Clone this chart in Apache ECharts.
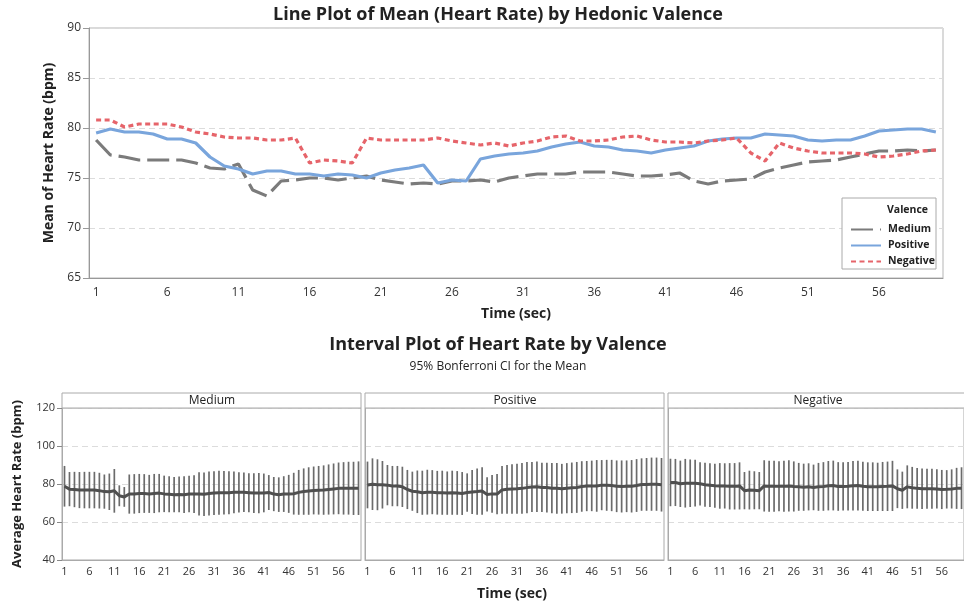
<!DOCTYPE html>
<html>
<head>
<meta charset="utf-8">
<title>Heart Rate by Hedonic Valence</title>
<script src="https://cdn.jsdelivr.net/npm/echarts@6/dist/echarts.min.js"></script>
<style>
  html, body { margin: 0; padding: 0; background: #fff; }
  #chart { width: 964px; height: 607px; }
</style>
</head>
<body>
<div id="chart"></div>
<script>
// time points (sec)
var time = [1,2,3,4,5,6,7,8,9,10,11,12,13,14,15,16,17,18,19,20,
  21,22,23,24,25,26,27,28,29,30,31,32,33,34,35,36,37,38,39,40,
  41,42,43,44,45,46,47,48,49,50,51,52,53,54,55,56,57,58,59,60];

// mean heart rate per valence
var medium = [78.8,77.3,77.1,76.8,76.8,76.8,76.8,76.5,76.0,75.9,
  76.4,73.8,73.2,74.7,74.8,75.0,75.0,74.8,75.0,75.2,
  74.8,74.6,74.4,74.5,74.4,74.7,74.7,74.8,74.6,75.0,
  75.2,75.4,75.4,75.4,75.6,75.6,75.6,75.4,75.2,75.2,
  75.3,75.5,74.7,74.4,74.7,74.8,74.9,75.6,76.0,76.3,
  76.6,76.7,76.8,77.1,77.4,77.7,77.7,77.8,77.7,77.8];
var positive = [79.5,79.9,79.6,79.6,79.4,78.9,78.9,78.5,77.1,76.2,
  75.9,75.4,75.7,75.7,75.4,75.4,75.2,75.4,75.3,75.0,
  75.5,75.8,76.0,76.3,74.5,74.8,74.7,76.9,77.2,77.4,
  77.5,77.7,78.1,78.4,78.6,78.2,78.1,77.8,77.7,77.5,
  77.8,78.0,78.2,78.7,78.9,79.0,79.0,79.4,79.3,79.2,
  78.8,78.7,78.8,78.8,79.2,79.7,79.8,79.9,79.9,79.6];
var negative = [80.8,80.8,80.1,80.4,80.4,80.4,80.1,79.6,79.4,79.1,
  79.0,79.0,78.8,78.8,79.0,76.5,76.8,76.7,76.5,79.0,
  78.8,78.8,78.8,78.8,79.0,78.7,78.5,78.3,78.5,78.2,
  78.5,78.7,79.1,79.2,78.7,78.7,78.8,79.1,79.2,78.8,
  78.6,78.6,78.5,78.7,78.8,79.0,77.5,76.7,78.5,78.0,
  77.7,77.5,77.5,77.5,77.4,77.1,77.2,77.4,77.7,77.8];

// 95% Bonferroni CI half widths
var ciMedium = [10.7,9.0,9.3,9.5,9.6,9.6,9.6,9.4,9.0,9.6,
  11.5,5.5,5.2,10.3,10.4,10.3,10.2,10.0,10.3,10.1,
  9.6,9.5,9.3,9.4,9.7,9.6,9.9,11.4,11.5,11.6,
  11.5,11.6,11.4,11.3,11.0,10.6,10.4,10.3,10.4,10.6,
  10.2,9.2,9.0,9.1,9.4,10.0,11.0,11.8,12.2,12.5,
  12.6,12.8,13.0,13.2,13.4,13.6,13.8,13.9,14.0,14.1];
var ciPositive = [12.3,13.6,13.4,12.5,10.6,10.6,10.6,10.6,10.3,10.3,
  11.2,11.6,11.8,11.6,11.5,11.6,11.4,11.6,11.5,11.3,
  10.1,11.6,12.2,12.5,9.0,9.9,10.6,12.6,12.8,13.0,
  13.1,13.3,13.5,13.2,13.3,13.0,13.1,13.2,13.3,13.1,
  13.2,13.3,13.4,13.3,13.2,13.3,13.6,13.2,13.4,13.5,
  13.6,13.7,13.6,13.8,13.9,13.8,13.9,14.0,14.0,14.1];
var ciNegative = [12.5,12.4,12.2,12.8,12.5,12.3,11.4,11.6,11.5,11.6,
  12.0,11.9,12.2,12.2,12.4,9.8,10.2,10.0,9.8,13.5,
  13.4,13.4,13.2,13.4,13.5,13.2,12.6,12.4,12.4,12.0,
  12.6,12.8,13.0,13.1,12.8,12.7,12.8,13.0,13.1,12.9,
  12.8,12.8,12.7,12.9,13.0,13.2,10.2,9.8,11.3,11.0,
  10.7,10.7,10.5,10.5,10.3,10.3,10.1,10.3,10.8,11.0];

var panels = ["Medium", "Positive", "Negative"];

var FONT = "Open Sans";
var myChart = echarts.init(document.getElementById("chart"));

// 每5秒一个刻度
function everyFifth(idx) { return idx % 5 === 0; }

function ciData(mean, ci) {
  return mean.map(function (m, i) { return [i, m - ci[i], m + ci[i]]; });
}

function renderBar(params, api) {
  var lo = api.coord([api.value(0), api.value(1)]);
  var hi = api.coord([api.value(0), api.value(2)]);
  return {
    type: "line",
    shape: { x1: lo[0], y1: lo[1], x2: hi[0], y2: hi[1] },
    style: { stroke: "#6b6b6b", lineWidth: 1.7 }
  };
}

var panelLeft = [62, 365, 668];
var grids = [{ left: 89, top: 28, width: 854, height: 250, show: true, borderColor: "#b5b5b5" }];
var xAxes = [{
  type: "category", gridIndex: 0, data: time, boundaryGap: true,
  name: "Time (sec)", nameLocation: "middle", nameGap: 29,
  nameTextStyle: { fontFamily: FONT, fontSize: 14, fontWeight: "bold", color: "#222" },
  axisLine: { lineStyle: { color: "#999" } },
  axisTick: { alignWithLabel: true, interval: everyFifth, length: 6, lineStyle: { color: "#999" } },
  axisLabel: { interval: everyFifth, fontFamily: FONT, fontSize: 12, color: "#333", margin: 9 },
  splitLine: { show: false }
}];
var yAxes = [{
  type: "value", gridIndex: 0, min: 65, max: 90, interval: 5,
  name: "Mean of Heart Rate (bpm)", nameLocation: "middle", nameGap: 33,
  nameTextStyle: { fontFamily: FONT, fontSize: 14, fontWeight: "bold", color: "#222" },
  axisLine: { show: true, lineStyle: { color: "#999" } },
  axisTick: { show: true, length: 6, lineStyle: { color: "#999" } },
  axisLabel: { fontFamily: FONT, fontSize: 12, color: "#333", margin: 8 },
  splitLine: { lineStyle: { color: "#dcdcdc", type: [6, 4] } }
}];

panels.forEach(function (p, k) {
  grids.push({ left: panelLeft[k], top: 408, width: 299, height: 152, show: true, borderColor: "#aaa" });
  xAxes.push({
    type: "category", gridIndex: k + 1, data: time, boundaryGap: true,
    axisLine: { lineStyle: { color: "#aaa" } },
    axisTick: { alignWithLabel: true, interval: everyFifth, length: 6, lineStyle: { color: "#888" } },
    axisLabel: { interval: everyFifth, fontFamily: FONT, fontSize: 11, color: "#333", margin: 6 }
  });
  yAxes.push({
    type: "value", gridIndex: k + 1, min: 40, max: 120, interval: 20,
    name: k === 0 ? "Average Heart Rate (bpm)" : "",
    nameLocation: "middle", nameGap: 38,
    nameTextStyle: { fontFamily: FONT, fontSize: 13, fontWeight: "bold", color: "#222" },
    axisLine: { show: true, lineStyle: { color: "#aaa" } },
    axisTick: { show: k === 0, length: 5, lineStyle: { color: "#888" } },
    axisLabel: { show: k === 0, fontFamily: FONT, fontSize: 11, color: "#333", margin: 7 },
    splitLine: { lineStyle: { color: "#dcdcdc", type: [6, 4] } }
  });
});

var means = [medium, positive, negative];
var cis = [ciMedium, ciPositive, ciNegative];

var series = [
  { name: "Medium", type: "line", xAxisIndex: 0, yAxisIndex: 0, data: medium, symbol: "none",
    lineStyle: { color: "#7b7b7b", width: 3.2, type: [22, 7] }, itemStyle: { color: "#7b7b7b" } },
  { name: "Positive", type: "line", xAxisIndex: 0, yAxisIndex: 0, data: positive, symbol: "none",
    lineStyle: { color: "#79a5dc", width: 3.2 }, itemStyle: { color: "#79a5dc" } },
  { name: "Negative", type: "line", xAxisIndex: 0, yAxisIndex: 0, data: negative, symbol: "none",
    lineStyle: { color: "#e6646a", width: 3.2, type: [5, 3.5] }, itemStyle: { color: "#e6646a" } }
];
panels.forEach(function (p, k) {
  series.push({
    type: "custom", xAxisIndex: k + 1, yAxisIndex: k + 1,
    data: ciData(means[k], cis[k]), encode: { x: 0, y: [1, 2] },
    renderItem: renderBar, silent: true
  });
  series.push({
    type: "line", xAxisIndex: k + 1, yAxisIndex: k + 1, data: means[k], symbol: "none",
    lineStyle: { color: "#4f4f4f", width: 3 }, silent: true, z: 3
  });
});

var graphic = [
  // legend box
  { type: "rect", shape: { x: 842, y: 198, width: 94, height: 71 },
    style: { fill: "#fff", stroke: "#aaa", lineWidth: 1 }, z: 10 },
  { type: "text", x: 887, y: 210, z: 11,
    style: { text: "Valence", font: "bold 10.5px '" + FONT + "'", fill: "#222", textVerticalAlign: "middle" } },
  { type: "text", x: 512, y: 594, z: 11,
    style: { text: "Time (sec)", font: "bold 14px '" + FONT + "'", fill: "#222", textAlign: "center", textVerticalAlign: "middle" } }
];
panels.forEach(function (p, k) {
  graphic.push({ type: "rect", shape: { x: panelLeft[k], y: 393, width: 299, height: 15 },
    style: { fill: "#fff", stroke: "#aaa", lineWidth: 1 }, z: 10 });
  graphic.push({ type: "text", x: panelLeft[k] + 150, y: 401, z: 11,
    style: { text: p, font: "12px '" + FONT + "'", fill: "#222", textAlign: "center", textVerticalAlign: "middle" } });
});

var option = {
  backgroundColor: "#fff",
  animation: false,
  title: [
    { text: "Line Plot of Mean (Heart Rate) by Hedonic Valence", left: 493, top: 1, textAlign: "center",
      textStyle: { fontFamily: FONT, fontSize: 18, fontWeight: "bold", color: "#222" } },
    { text: "Interval Plot of Heart Rate by Valence", left: 493, top: 331, textAlign: "center",
      subtext: "95% Bonferroni CI for the Mean", itemGap: 7,
      textStyle: { fontFamily: FONT, fontSize: 18, fontWeight: "bold", color: "#222" },
      subtextStyle: { fontFamily: FONT, fontSize: 12, color: "#222" } }
  ],
  legend: {
    data: ["Medium", "Positive", "Negative"], orient: "vertical", left: 845, top: 219,
    itemWidth: 30, itemHeight: 10, itemGap: 5, z: 12,
    itemStyle: { opacity: 0 },
    textStyle: { fontFamily: FONT, fontSize: 10.5, fontWeight: "bold", color: "#222", padding: [0, 0, 0, 2] }
  },
  grid: grids,
  xAxis: xAxes,
  yAxis: yAxes,
  series: series,
  graphic: graphic
};

myChart.setOption(option);
</script>
</body>
</html>
